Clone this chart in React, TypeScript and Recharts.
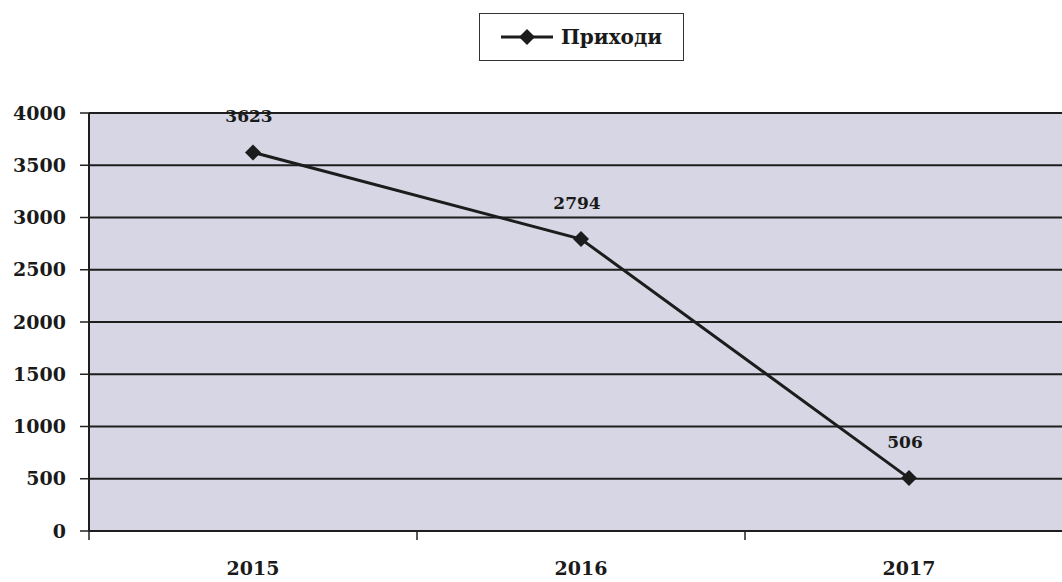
import { LineChart, Line, XAxis, YAxis, CartesianGrid, LabelList } from 'recharts'

const years = ['2015', '2016', '2017']
const incomes = [3623, 2794, 506]
const yTicks = [0, 500, 1000, 1500, 2000, 2500, 3000, 3500, 4000]
const xTicks = [-0.5, 0, 0.5, 1, 1.5, 2, 2.5]

const chartData = years.map((year, i) => ({ x: i, year, value: incomes[i] }))

const font = '"DejaVu Serif", serif'

const Diamond = (props: any) => {
  const { cx, cy } = props
  if (cx == null || cy == null) return null
  const r = 8
  return (
    <polygon
      points={`${cx},${cy - r} ${cx + r},${cy} ${cx},${cy + r} ${cx - r},${cy}`}
      fill='#1c1c1c'
    />
  )
}

const XTick = (props: any) => {
  const { x, y, payload } = props
  const v = payload.value
  if (Number.isInteger(v)) {
    return (
      <text x={x} y={y + 44} textAnchor='middle' fontFamily={font} fontWeight='bold' fontSize={19} fill='#1a1a1a'>
        {years[v]}
      </text>
    )
  }
  return <line x1={x} x2={x} y1={y} y2={y + 9} stroke='#222' strokeWidth={1.5} />
}

const PointLabel = (props: any) => {
  const { x, y, value } = props
  return (
    <text x={x - 4} y={y - 30} textAnchor='middle' fontFamily={font} fontWeight='bold' fontSize={17} fill='#1a1a1a'>
      {value}
    </text>
  )
}

const LegendBox = () => (
  <div
    style={{
      position: 'absolute',
      left: 479,
      top: 13,
      width: 205,
      height: 48,
      border: '1.5px solid #333',
      boxSizing: 'border-box',
      display: 'flex',
      alignItems: 'center',
      justifyContent: 'center',
      gap: 8,
      background: '#fff',
    }}
  >
    <svg width={52} height={20}>
      <line x1={0} x2={52} y1={10} y2={10} stroke='#1c1c1c' strokeWidth={3} />
      <polygon points='26,2 34,10 26,18 18,10' fill='#1c1c1c' />
    </svg>
    <span style={{ fontFamily: font, fontWeight: 'bold', fontSize: 20, color: '#1a1a1a' }}>Приходи</span>
  </div>
)

export default function App() {
  return (
    <div style={{ position: 'absolute', left: 0, top: 0, width: 1062, height: 582, overflow: 'hidden', background: '#fff' }}>
      <LineChart width={1080} height={582} data={chartData} margin={{ top: 113, right: 7, bottom: 0, left: 0 }}>
        <CartesianGrid vertical={false} fill='#d6d6e4' stroke='#1e1e1e' strokeWidth={2} />
        <XAxis
          dataKey='x'
          type='number'
          domain={[-0.5, 2.5]}
          ticks={xTicks}
          interval={0}
          height={51}
          tickLine={false}
          tickSize={0}
          tickMargin={0}
          tick={<XTick />}
          axisLine={{ stroke: '#1e1e1e', strokeWidth: 2 }}
        />
        <YAxis
          domain={[0, 4000]}
          ticks={yTicks}
          interval={0}
          width={89}
          tickSize={9}
          tickMargin={14}
          tickLine={{ stroke: '#222', strokeWidth: 1.5 }}
          axisLine={{ stroke: '#1e1e1e', strokeWidth: 2 }}
          tick={{ fontFamily: font, fontWeight: 'bold', fontSize: 19, fill: '#1a1a1a' }}
        />
        <Line
          type='linear'
          dataKey='value'
          name='Приходи'
          stroke='#1c1c1c'
          strokeWidth={3}
          dot={<Diamond />}
          activeDot={false}
          isAnimationActive={false}
        >
          <LabelList dataKey='value' content={<PointLabel />} />
        </Line>
      </LineChart>
      <LegendBox />
    </div>
  )
}
